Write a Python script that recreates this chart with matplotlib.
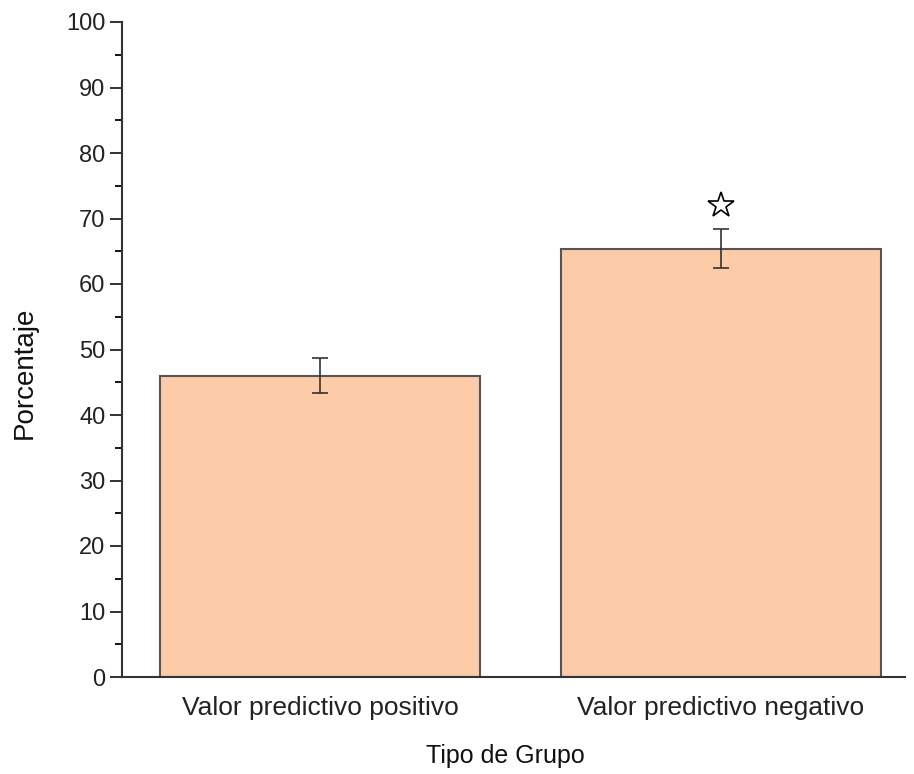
import matplotlib
matplotlib.use("Agg")
import matplotlib.pyplot as plt
from matplotlib.ticker import MultipleLocator

categories = ["Valor predictivo positivo", "Valor predictivo negativo"]
values = [46.0, 65.4]
errors = [2.7, 3.0]
star_value = 72.0

plt.rcParams['font.family'] = ['Liberation Sans', 'DejaVu Sans']

fig = plt.figure(figsize=(9.14, 7.74), dpi=100)
ax = fig.add_axes([122/914, 97/774, (905-122)/914, (677-22)/774])

x = [1, 2]
ax.bar(x, values, width=0.8, color="#FCCBA8", edgecolor="#555555", linewidth=1.5,
       yerr=errors, error_kw=dict(ecolor="#333333", elinewidth=1.2, capsize=6, capthick=1.2))
ax.plot([2], [star_value], marker="*", markersize=19, markerfacecolor="white",
        markeredgecolor="black", markeredgewidth=1.2, linestyle="none")

ax.set_xlim(0.505, 2.46)
ax.set_ylim(0, 100)
ax.set_xticks(x)
ax.set_xticklabels(categories)
ax.yaxis.set_major_locator(MultipleLocator(10))
ax.yaxis.set_minor_locator(MultipleLocator(5))
ax.tick_params(axis='y', which='major', direction='out', length=9, width=1.3, labelsize=17, colors='#222222', pad=3)
ax.tick_params(axis='y', which='minor', direction='out', length=5, width=1.3)
ax.tick_params(axis='x', which='major', length=0, labelsize=19, pad=14, colors='#222222')
for s in ['top', 'right']:
    ax.spines[s].set_visible(False)
for s in ['left', 'bottom']:
    ax.spines[s].set_linewidth(1.5)
    ax.spines[s].set_color('#333333')
ax.set_xlabel("Tipo de Grupo", fontsize=18, color='#111111')
ax.xaxis.set_label_coords(0.489, -0.102)
ax.set_ylabel("Porcentaje", fontsize=20, color='#111111')
ax.yaxis.set_label_coords(-0.107, 0.464)

fig.savefig("out.png", dpi=100)
